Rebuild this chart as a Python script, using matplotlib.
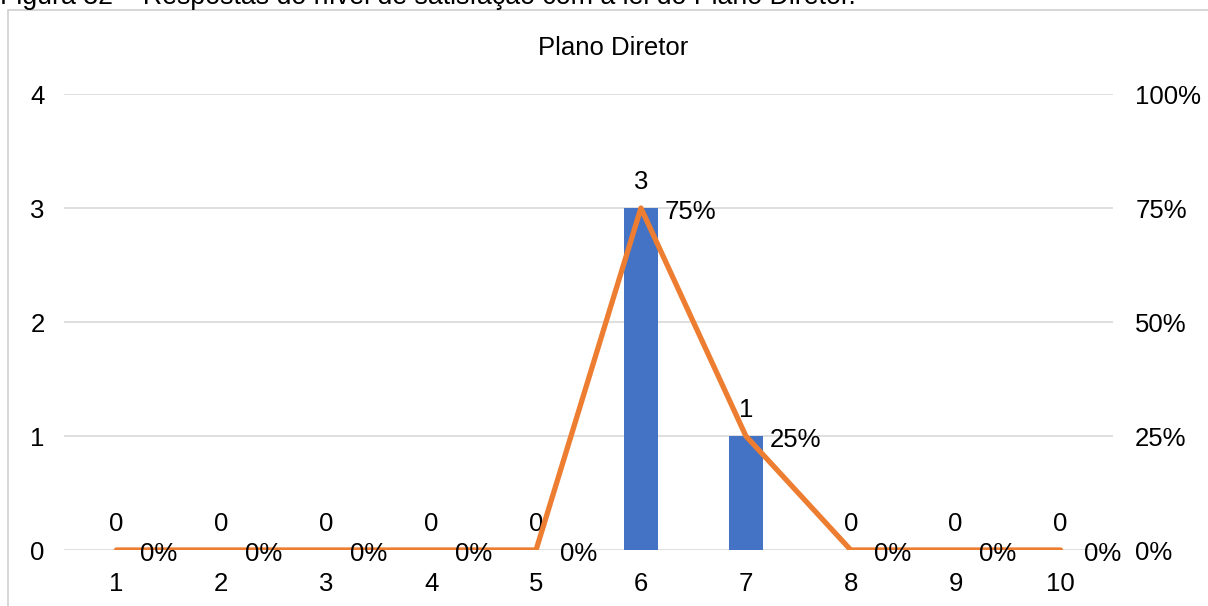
# Plano Diretor: contagem de respostas (barras) e percentual (linha) por nota
import matplotlib.pyplot as plt
from matplotlib.patches import Rectangle
from matplotlib.ticker import PercentFormatter

plt.rcParams['font.family'] = ['Liberation Sans', 'DejaVu Sans']

notas = [1, 2, 3, 4, 5, 6, 7, 8, 9, 10]
respostas = [0, 0, 0, 0, 0, 3, 1, 0, 0, 0]
percentual = [0, 0, 0, 0, 0, 0.75, 0.25, 0, 0, 0]

azul = '#4472C4'
laranja = '#ED7D31'
fs = 18.5

fig = plt.figure(figsize=(12.08, 6.06), dpi=100)

# legenda da figura (cortada no topo) e moldura do gráfico
fig.text(0.0, 1 - 4 / 606, 'Figura 32 – Respostas do nível de satisfação com a lei do Plano Diretor.',
         fontsize=19.3, ha='left', va='baseline')
fig.add_artist(Rectangle((8 / 1208, -0.1), 1.2, 1 - 10 / 606 + 0.1, transform=fig.transFigure,
                         fill=False, edgecolor='#d0d0d0', linewidth=1.2))

ax = fig.add_axes([64 / 1208, 1 - 550 / 606, 1049 / 1208, 456 / 606])
ax.bar(notas, respostas, width=0.32, color=azul, zorder=2)
ax.set_xlim(0.5, 10.5)
ax.set_ylim(0, 4)
ax.set_yticks([0, 1, 2, 3, 4])
ax.set_xticks(notas)
ax.grid(axis='y', color='#d9d9d9', linewidth=1.2, zorder=0)
ax.set_axisbelow(True)
for s in ax.spines.values():
    s.set_visible(False)
ax.tick_params(axis='both', length=0, labelsize=fs)
ax.tick_params(axis='y', pad=14)
ax.tick_params(axis='x', pad=16)

for x, v in zip(notas, respostas):
    ax.annotate(str(v), (x, v), xytext=(0, 19), textcoords='offset points',
                ha='center', va='center', fontsize=fs)

ax2 = ax.twinx()
ax2.plot(notas, percentual, color=laranja, linewidth=3.8, solid_capstyle='round', zorder=3)
ax2.set_ylim(0, 1)
ax2.set_yticks([0, 0.25, 0.5, 0.75, 1])
ax2.yaxis.set_major_formatter(PercentFormatter(1, decimals=0))
for s in ax2.spines.values():
    s.set_visible(False)
ax2.tick_params(axis='y', length=0, labelsize=fs, pad=16)

for x, p in zip(notas, percentual):
    ax2.annotate(f'{p:.0%}', (x, p), xytext=(17, -3), textcoords='offset points',
                 ha='left', va='center', fontsize=fs)

fig.text(613 / 1208, 1 - 48 / 606, 'Plano Diretor', fontsize=fs, ha='center', va='center')

fig.savefig('out.png', dpi=100)
